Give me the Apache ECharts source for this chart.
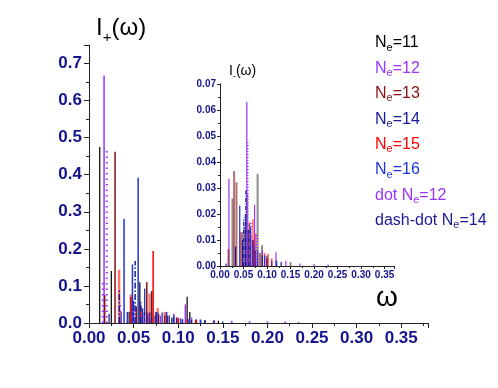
<!DOCTYPE html>
<html>
<head>
<meta charset="utf-8">
<script src="https://cdn.jsdelivr.net/npm/echarts@6/dist/echarts.min.js"></script>
<style>
  html, body { margin: 0; padding: 0; background: #fff; }
  #main { width: 498px; height: 388px; }
</style>
</head>
<body>
<div id="main"></div>
<script>
// sticks [omega, intensity]
// main plot: I+(w)
var main11 = [[0.012,0.475],[0.025,0.14],[0.045,0.03],[0.057,0.11],[0.062,0.03],[0.0704,0.086],[0.078,0.025],[0.085,0.02],[0.093,0.015],[0.110,0.071],[0.113,0.03],[0.120,0.01],[0.130,0.008],[0.145,0.006]];
var main12 = [[0.0169,0.668],[0.048,0.04],[0.065,0.03],[0.080,0.02],[0.095,0.025],[0.108,0.05],[0.115,0.015],[0.125,0.01],[0.140,0.008],[0.160,0.006],[0.180,0.005],[0.200,0.004],[0.220,0.004],[0.235,0.003]];
var main13 = [[0.0176,0.075],[0.0292,0.462],[0.047,0.07],[0.053,0.045],[0.0648,0.11],[0.075,0.03],[0.088,0.02],[0.100,0.012],[0.120,0.008]];
var main14 = [[0.0225,0.025],[0.036,0.03],[0.050,0.06],[0.058,0.05],[0.0625,0.093],[0.068,0.03],[0.074,0.02],[0.082,0.028],[0.090,0.02],[0.098,0.015],[0.105,0.01],[0.115,0.008],[0.130,0.006]];
var main15 = [[0.0337,0.144],[0.0468,0.077],[0.068,0.08],[0.077,0.04],[0.085,0.03],[0.100,0.015],[0.110,0.01],[0.120,0.008],[0.140,0.005]];
var main15Solid = [[0.0719,0.194],[0.058,0.04]];
var main16 = [[0.0393,0.281],[0.043,0.03],[0.0487,0.158],[0.0551,0.392],[0.060,0.04],[0.066,0.025],[0.076,0.03],[0.087,0.03],[0.095,0.02],[0.103,0.012],[0.112,0.01],[0.125,0.008],[0.140,0.006],[0.150,0.004]];
var mainDot12 = [[0.0155,0.117],[0.0199,0.464],[0.035,0.06],[0.050,0.04],[0.062,0.03]];
var mainDash14 = [[0.034,0.09],[0.0517,0.167],[0.058,0.06],[0.070,0.03]];

// inset: I-(w)
var ins11 = [[0.0265,0.026],[0.047,0.013],[0.058,0.028],[0.070,0.01],[0.080,0.0355],[0.0895,0.008],[0.100,0.004],[0.120,0.002],[0.150,0.0015]];
var ins12 = [[0.019,0.0336],[0.057,0.0632],[0.0735,0.0236],[0.090,0.006],[0.100,0.003],[0.119,0.0053],[0.140,0.002],[0.170,0.001],[0.200,0.0008],[0.230,0.0006]];
var ins13 = [[0.018,0.0065],[0.030,0.0365],[0.035,0.0322],[0.052,0.015],[0.065,0.012],[0.085,0.005],[0.100,0.003]];
var ins14 = [[0.033,0.0075],[0.048,0.01],[0.060,0.014],[0.070,0.01],[0.075,0.006],[0.090,0.004],[0.110,0.002],[0.130,0.0015]];
var ins15 = [[0.044,0.013],[0.063,0.017],[0.070,0.018],[0.076,0.0125],[0.095,0.005],[0.1025,0.0047],[0.110,0.003]];
var ins16 = [[0.013,0.001],[0.042,0.0232],[0.054,0.02],[0.065,0.015],[0.072,0.008],[0.080,0.006],[0.095,0.004],[0.120,0.002]];
var insDot12 = [[0.059,0.048],[0.066,0.017],[0.078,0.012]];
var insDash14 = [[0.0504,0.0186],[0.055,0.029],[0.062,0.016]];

var legendNames = ['11','12','13','14','15','16','dot 12','dash-dot 14'];

var c11 = '#000000', c12 = '#9933ff', c13 = '#8b1010', c14 = '#1a1a96',
    c15 = '#ff0000', c16 = '#1c36d6';
var labelColor = '#14148c';
var font = 'Liberation Sans, Arial, sans-serif';

function sticks(data, gi, color, width, dash, opacity) {
    return {
        type: 'custom',
        xAxisIndex: gi,
        yAxisIndex: gi,
        data: data,
        encode: { x: 0, y: 1 },
        clip: true,
        silent: true,
        renderItem: function(params, api) {
            var p0 = api.coord([api.value(0), 0]);
            var p1 = api.coord([api.value(0), api.value(1)]);
            return {
                type: 'line',
                shape: { x1: p0[0], y1: p0[1], x2: p1[0], y2: p1[1] },
                style: { stroke: color, lineWidth: width, lineDash: dash || null, opacity: opacity == null ? 1 : opacity }
            };
        }
    };
}

function valAxis(gi, min, max, step, digits, size, showMax) {
    return {
        type: 'value', gridIndex: gi, min: min, max: max, interval: step,
        axisLine: { show: true, onZero: false, lineStyle: { color: '#222', width: 1 } },
        axisTick: { show: true, length: size > 12 ? 5 : 3, lineStyle: { color: '#222' } },
        minorTick: { show: true, splitNumber: 2, length: size > 12 ? 3 : 2, lineStyle: { color: '#222' } },
        splitLine: { show: false },
        axisLabel: {
            color: labelColor, fontWeight: 'bold', fontSize: size, fontFamily: font,
            margin: size > 12 ? 7 : 4, showMaxLabel: !!showMax,
            formatter: function(v) { return v.toFixed(digits); }
        }
    };
}

var legendColors = [c11, c12, c13, c14, c15, c16, c12, c14];
var graphics = [];
legendNames.forEach(function(n, i) {
    var parts = n.split(' ');
    var num = parts[parts.length - 1];
    var prefix = parts.length > 1 ? parts[0] + ' ' : '';
    graphics.push({
        type: 'text', left: 375, top: 35 + i * 25.4,
        style: {
            text: (prefix ? '{n|' + prefix + '}' : '') + '{n|N}{s|e}{n|=' + num + '}',
            fill: legendColors[i],
            rich: {
                n: { fontSize: 16, fontFamily: font, lineHeight: 20, verticalAlign: 'middle', fill: legendColors[i] },
                s: { fontSize: 11, fontFamily: font, lineHeight: 20, verticalAlign: 'bottom', fill: legendColors[i] }
            }
        }
    });
});
graphics.push({
    type: 'text', left: 96, top: 16,
    style: {
        text: '{a|I}{s|+}{a|(ω)}', fill: '#000',
        rich: {
            a: { fontSize: 24, fontFamily: font, lineHeight: 34, verticalAlign: 'middle', fill: '#000' },
            s: { fontSize: 15, fontFamily: font, lineHeight: 34, verticalAlign: 'bottom', fill: '#000' }
        }
    }
});
graphics.push({
    type: 'text', left: 229, top: 64,
    style: {
        text: '{a|I}{s|-}{a|(ω)}', fill: '#000',
        rich: {
            a: { fontSize: 14, fontFamily: font, lineHeight: 20, verticalAlign: 'middle', fill: '#000' },
            s: { fontSize: 9, fontFamily: font, lineHeight: 20, verticalAlign: 'bottom', fill: '#000' }
        }
    }
});
graphics.push({
    type: 'text', left: 376, top: 284,
    style: { text: 'ω', fontSize: 28, fontFamily: font, fill: '#000' }
});

var chart = echarts.init(document.getElementById('main'));
var option = {
    backgroundColor: '#fff',
    animation: false,
    grid: [
        { left: 89, top: 45, width: 339, height: 278 },
        { left: 220, top: 84, width: 174, height: 182 }
    ],
    xAxis: [
        valAxis(0, 0, 0.38, 0.05, 2, 17),
        valAxis(1, 0, 0.37, 0.05, 2, 10)
    ],
    yAxis: [
        valAxis(0, 0, 0.75, 0.1, 1, 17),
        valAxis(1, 0, 0.07, 0.01, 2, 10, true)
    ],
    graphic: graphics,
    series: [
        sticks(main11, 0, c11, 1.2),
        sticks(main12, 0, c12, 1.5),
        sticks(main13, 0, c13, 1.5),
        sticks(main14, 0, c14, 1.2),
        sticks(main15, 0, c15, 2.5, null, 0.55),
        sticks(main15Solid, 0, c15, 1.5),
        sticks(main16, 0, c16, 1.5),
        sticks(mainDot12, 0, c12, 2, [1.5, 4]),
        sticks(mainDash14, 0, c14, 1.5, [6, 2, 1.5, 2]),
        sticks(ins11, 1, c11, 2, null, 0.45),
        sticks(ins12, 1, c12, 1.2),
        sticks(ins13, 1, c13, 2, null, 0.6),
        sticks(ins14, 1, c14, 1.2),
        sticks(ins15, 1, c15, 1.5, null, 0.6),
        sticks(ins16, 1, c16, 1.2),
        sticks(insDot12, 1, c12, 1.5, [1, 2]),
        sticks(insDash14, 1, c14, 1.2, [4, 1.5, 1, 1.5])
    ]
};
chart.setOption(option);
</script>
</body>
</html>
